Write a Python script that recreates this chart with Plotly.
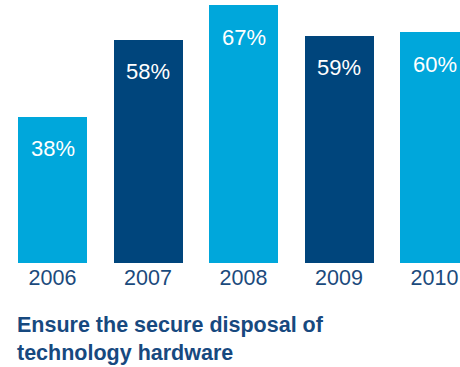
import plotly.graph_objects as go

years = ["2006", "2007", "2008", "2009", "2010"]
values = [38, 58, 67, 59, 60]
colors = ["#00A7DB", "#00457C", "#00A7DB", "#00457C", "#00A7DB"]
title_text = "Ensure the secure disposal of<br>technology hardware"

FONT = "Liberation Sans, Arial, Helvetica, sans-serif"
PLOT_H = 263  # pixel height of the plotting area

fig = go.Figure()
fig.add_trace(go.Bar(
    x=list(range(len(years))),
    y=values,
    marker=dict(color=colors, line=dict(width=0)),
    width=0.7225,
    hoverinfo="skip",
))

# value labels inside the top of each bar
for i, v in enumerate(values):
    fig.add_annotation(
        x=i, y=v, xref="x", yref="y",
        text=f"{v}%", showarrow=False,
        yanchor="middle", yshift=-32,
        font=dict(family=FONT, size=22, color="white"),
    )

fig.add_annotation(
    x=15 / 460, y=(PLOT_H - 311) / PLOT_H, xref="paper", yref="paper",
    text=f"<b>{title_text}</b>", showarrow=False, align="left",
    xanchor="left", yanchor="top",
    font=dict(family=FONT, size=21.5, color="#17497F"),
)

fig.update_layout(
    width=460, height=367,
    margin=dict(l=0, r=0, t=0, b=367 - PLOT_H),
    paper_bgcolor="white", plot_bgcolor="white",
    showlegend=False,
    bargap=0,
    xaxis=dict(
        range=[-0.5497, 4.267],
        tickmode="array", tickvals=list(range(len(years))), ticktext=years,
        showgrid=False, zeroline=False, showline=False,
        ticks="", ticklabelstandoff=-1,
        tickfont=dict(family=FONT, size=21.5, color="#1B4A7C"),
    ),
    yaxis=dict(range=[0, PLOT_H / 3.85], visible=False, fixedrange=True),
)

fig.write_html("out.html")
